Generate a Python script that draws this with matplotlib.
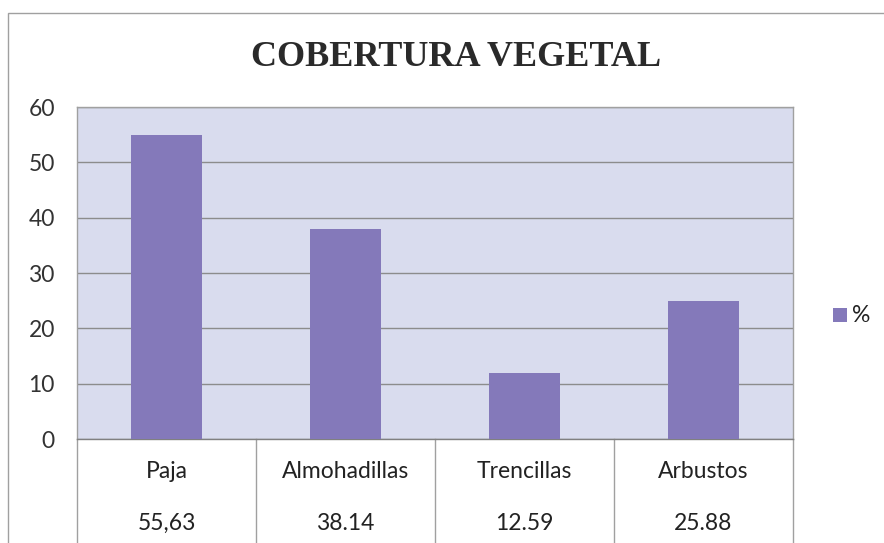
import matplotlib.pyplot as plt
from matplotlib.patches import Rectangle
import matplotlib.transforms as mtransforms

# datos
categorias = ['Paja', 'Almohadillas', 'Trencillas', 'Arbustos']
alturas = [55, 38, 12, 25]  # altura de las barras tal como se ven
etiquetas_valor = ['55,63', '38.14', '12.59', '25.88']
yticks = [0, 10, 20, 30, 40, 50, 60]

color_barra = '#8479ba'
color_fondo = '#d9dcee'
color_linea = '#8c8c8c'
fuente = 'Lato'
tam = 16.5

W, H = 884, 543
fig = plt.figure(figsize=(W / 100, H / 100), dpi=100)

# marco exterior del grafico
fig.add_artist(Rectangle((8 / W, -0.1), 1.1, 1 - 13 / H + 0.1, transform=fig.transFigure,
                         fill=False, edgecolor='#a0a0a0', linewidth=1))

ax = fig.add_axes([77 / W, 1 - 439 / H, (793 - 77) / W, (439 - 107) / H])
ax.set_facecolor(color_fondo)

x = list(range(len(categorias)))
ax.bar(x, alturas, width=0.4, color=color_barra, zorder=3)

ax.set_xlim(-0.5, len(categorias) - 0.5)
ax.set_ylim(0, 60)
ax.set_yticks(yticks)
ax.set_yticklabels([str(v) for v in yticks], fontfamily=fuente, fontsize=tam, color='#333333')
ax.tick_params(axis='y', length=0, pad=16)
ax.set_xticks([])
ax.yaxis.grid(True, color=color_linea, linewidth=1, zorder=1)
ax.set_axisbelow(True)
for s in ['left', 'right', 'top']:
    ax.spines[s].set_color('#a0a0a0')
    ax.spines[s].set_linewidth(1)
ax.spines['bottom'].set_color('#808080')
ax.spines['bottom'].set_linewidth(1)

# tabla de datos debajo del eje
trans = mtransforms.blended_transform_factory(ax.transData, fig.transFigure)
for i in range(len(categorias) + 1):
    ax.plot([i - 0.5, i - 0.5], [1 - 439 / H, 0], transform=trans, color='#a0a0a0',
            linewidth=1, clip_on=False)
for i, (cat, lab) in enumerate(zip(categorias, etiquetas_valor)):
    ax.text(i, 1 - 472 / H, cat, transform=trans, ha='center', va='center',
            fontfamily=fuente, fontsize=tam, color='#222222')
    ax.text(i, 1 - 523 / H, lab, transform=trans, ha='center', va='center',
            fontfamily=fuente, fontsize=tam, color='#222222')

# leyenda
fig.add_artist(Rectangle((833 / W, 1 - 322 / H), 14 / W, 14 / H, transform=fig.transFigure,
                         facecolor=color_barra, edgecolor='none'))
fig.text(852 / W, 1 - 315 / H, '%', ha='left', va='center', fontfamily=fuente,
         fontsize=tam, color='#222222')

fig.text(456 / W, 1 - 57 / H, 'COBERTURA VEGETAL', ha='center', va='center',
         fontfamily='Liberation Serif', fontweight='bold', fontsize=26, color='#2a2a2a')

fig.savefig('out.png', dpi=100)
